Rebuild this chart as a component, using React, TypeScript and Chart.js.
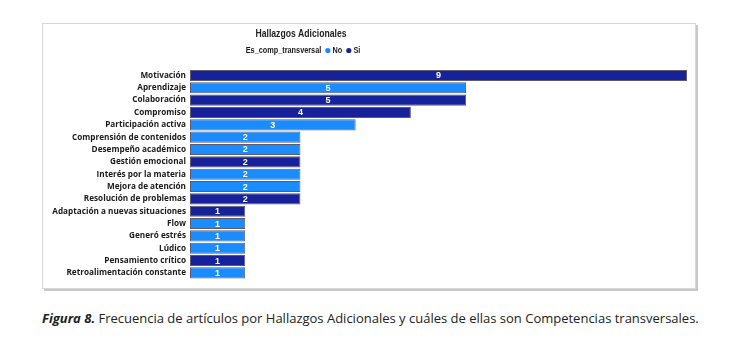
import React, { useEffect, useRef } from "react";
import { Chart, registerables } from "chart.js";

Chart.register(...registerables);

const categories = [
  "Motivación",
  "Aprendizaje",
  "Colaboración",
  "Compromiso",
  "Participación activa",
  "Comprensión de contenidos",
  "Desempeño académico",
  "Gestión emocional",
  "Interés por la materia",
  "Mejora de atención",
  "Resolución de problemas",
  "Adaptación a nuevas situaciones",
  "Flow",
  "Generó estrés",
  "Lúdico",
  "Pensamiento crítico",
  "Retroalimentación constante",
];
const values = [9, 5, 5, 4, 3, 2, 2, 2, 2, 2, 2, 1, 1, 1, 1, 1, 1];
const groups = ["Si", "No", "Si", "Si", "No", "No", "No", "Si", "No", "No", "Si", "Si", "No", "No", "No", "Si", "No"];
const legendTitle = "Es_comp_transversal";
const legendLabels = ["No", "Si"];
const chartTitle = "Hallazgos Adicionales";

const COLORS: Record<string, string> = { No: "#1a8cff", Si: "#17229a" };
const SANS = "'Liberation Sans', Arial, sans-serif";

const overlayPlugin = {
  id: "overlay",
  afterDatasetsDraw(chart: any) {
    const ctx = chart.ctx;
    const meta = chart.getDatasetMeta(0);
    ctx.save();
    ctx.fillStyle = "#ffffff";
    ctx.font = "bold 9px " + SANS;
    ctx.textAlign = "center";
    ctx.textBaseline = "middle";
    meta.data.forEach((bar: any, i: number) => {
      const x = (bar.base + bar.x) / 2;
      ctx.fillText(String(values[i]), x, bar.y + 0.5);
    });
    ctx.restore();
  },
  afterDraw(chart: any) {
    const ctx = chart.ctx;
    const cx = 258;
    // title (condensed)
    ctx.save();
    ctx.translate(cx, 9.5);
    ctx.scale(0.75, 1);
    ctx.fillStyle = "#1e1e1e";
    ctx.font = "bold 11.5px " + SANS;
    ctx.textAlign = "center";
    ctx.textBaseline = "middle";
    ctx.fillText(chartTitle, 0, 0);
    ctx.restore();
    // legend (condensed)
    ctx.save();
    const sx = 0.86;
    ctx.font = "bold 8.5px " + SANS;
    ctx.textAlign = "left";
    ctx.textBaseline = "middle";
    const gap = 4;
    const r = 2.6;
    const tw = (s: string) => ctx.measureText(s).width * sx;
    let total = tw(legendTitle);
    legendLabels.forEach((l) => {
      total += gap + r * 2 + 2 + tw(l);
    });
    let x = cx - total / 2 + 2;
    const y = 26.5;
    const drawText = (s: string, px: number) => {
      ctx.save();
      ctx.translate(px, y);
      ctx.scale(sx, 1);
      ctx.fillStyle = "#1a1a1a";
      ctx.fillText(s, 0, 0);
      ctx.restore();
    };
    drawText(legendTitle, x);
    x += tw(legendTitle);
    legendLabels.forEach((l) => {
      x += gap;
      ctx.beginPath();
      ctx.fillStyle = COLORS[l];
      ctx.arc(x + r, y, r, 0, Math.PI * 2);
      ctx.fill();
      x += r * 2 + 2;
      drawText(l, x);
      x += tw(l);
    });
    ctx.restore();
  },
};

export default function App() {
  const ref = useRef<HTMLCanvasElement | null>(null);
  useEffect(() => {
    if (!ref.current) return;
    const chart = new Chart(ref.current, {
      type: "bar",
      data: {
        labels: categories,
        datasets: [
          {
            label: "Frecuencia",
            data: values,
            backgroundColor: groups.map((g) => COLORS[g]),
            borderColor: "#5b5d6e",
            borderWidth: 1,
            borderSkipped: false,
            barPercentage: 0.9,
            categoryPercentage: 1,
          },
        ],
      },
      options: {
        indexAxis: "y",
        responsive: false,
        animation: false,
        devicePixelRatio: 1,
        layout: { padding: { left: 0, right: 8, top: 45.3, bottom: 6.8 } },
        plugins: {
          legend: { display: false },
          title: { display: false },
          tooltip: { enabled: false },
        },
        scales: {
          x: { display: false, min: 0, max: 9 },
          y: {
            grid: { display: false, drawTicks: false },
            border: { display: false },
            ticks: {
              padding: 4,
              color: "#1a1a1a",
              autoSkip: false,
              font: { family: "'Open Sans', sans-serif", weight: "bold", size: 8.2 },
            },
            afterFit(scale: any) {
              scale.width = 147;
            },
          },
        },
      },
      plugins: [overlayPlugin],
    });
    return () => chart.destroy();
  }, []);

  return (
    <div style={{ width: 726 }}>
      <div
        style={{
          marginLeft: 34,
          marginTop: 15,
          width: 652,
          height: 264,
          border: "1px solid #d6d6d6",
          boxShadow: "2px 2px 0 #c8c8c8",
          background: "#fff",
        }}
      >
        <canvas ref={ref} width={652} height={264} style={{ display: "block" }} />
      </div>
      <div
        style={{
          marginLeft: 34,
          marginTop: 20,
          fontFamily: "'Open Sans', sans-serif",
          fontSize: 13,
          color: "#222",
          whiteSpace: "nowrap",
        }}
      >
        <b><i>Figura 8.</i></b> Frecuencia de artículos por Hallazgos Adicionales y cuáles de ellas son Competencias transversales.
      </div>
    </div>
  );
}
